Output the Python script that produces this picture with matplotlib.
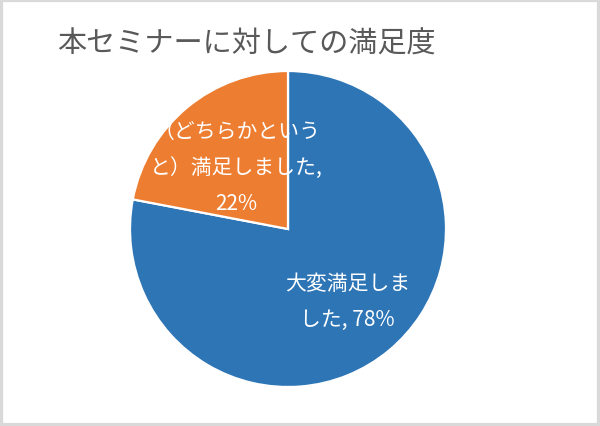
import numpy as np
import matplotlib
matplotlib.use("Agg")
import matplotlib.pyplot as plt
from matplotlib.patches import Rectangle

plt.rcParams['font.family'] = ['Noto Sans CJK JP', 'DejaVu Sans']

# Données
titre = "本セミナーに対しての満足度"
categories = ["大変満足しま\nした", "（どちらかという\nと）満足しました"]
valeurs = [78, 22]
couleurs = ['#2E75B6', '#ED7D31']
distances = [0.59, 0.51]

fig = plt.figure(figsize=(6.0, 4.27), dpi=100)
W, H = 600, 427
cx, cy, r = 288, 230, 158
ax = fig.add_axes([(cx - r) / W, (H - cy - r) / H, 2 * r / W, 2 * r / H])

wedges, _ = ax.pie(valeurs, colors=couleurs, startangle=90, counterclock=False,
                   radius=1.0, wedgeprops=dict(edgecolor='white', linewidth=1.6))
ax.set_xlim(-1, 1)
ax.set_ylim(-1, 1)
ax.set_aspect('equal')
ax.axis('off')

# Etiquettes au milieu de chaque part
labels = [categories[0] + ", %d%%" % valeurs[0],
          categories[1] + ",\n%d%%" % valeurs[1]]
for w, lab, d in zip(wedges, labels, distances):
    ang = np.deg2rad((w.theta1 + w.theta2) / 2)
    ax.text(d * np.cos(ang), d * np.sin(ang), lab, ha='center', va='center',
            color='white', fontsize=15, linespacing=1.8, clip_on=False)

fig.text(57 / W, 1 - 45 / H, titre, ha='left', va='center',
         fontsize=21, color='#595959')

fig.patches.append(Rectangle((0, 0), 1, 1, transform=fig.transFigure,
                             fill=False, edgecolor='#d9d9d9', linewidth=4.5))

fig.savefig('out.png', dpi=100)
